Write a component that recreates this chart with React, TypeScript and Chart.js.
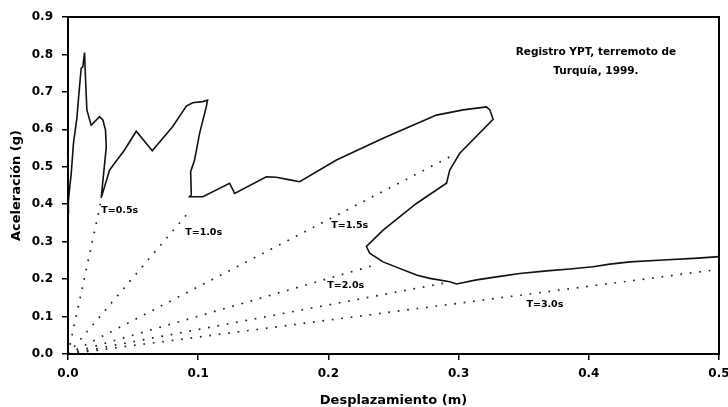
import React, { useEffect, useRef } from 'react';
import { Chart, registerables } from 'chart.js';

Chart.register(...registerables);

// Capacity curve: displacement (m) vs. acceleration (g)
const curveX = [
  0.0, 0.0003, 0.0025, 0.0042, 0.0068, 0.0083, 0.0101, 0.0114, 0.0127, 0.0135,
  0.0145, 0.0178, 0.0242, 0.0268, 0.0288, 0.0294, 0.0255, 0.0319, 0.0434, 0.0524,
  0.0647, 0.0803, 0.0909, 0.0957, 0.1034, 0.1072, 0.1062, 0.1011, 0.0972, 0.0942,
  0.0947, 0.0934, 0.1036, 0.1241, 0.128, 0.1523, 0.16, 0.1703, 0.1779, 0.2062,
  0.242, 0.283, 0.3035, 0.3214, 0.324, 0.3265, 0.3009, 0.2932, 0.2907, 0.2676,
  0.242, 0.2292, 0.2317, 0.242, 0.2676, 0.2779, 0.2932, 0.2984, 0.3138, 0.3291,
  0.347, 0.3676, 0.3855, 0.4032, 0.4162, 0.4316, 0.4572, 0.4839, 0.5,
];
const curveY = [
  0.376, 0.41, 0.483, 0.563, 0.629, 0.692, 0.763, 0.767, 0.805, 0.732,
  0.652, 0.611, 0.634, 0.625, 0.598, 0.553, 0.417, 0.491, 0.545, 0.595,
  0.543, 0.607, 0.662, 0.671, 0.674, 0.678, 0.66, 0.59, 0.518, 0.487,
  0.425, 0.42, 0.42, 0.456, 0.429, 0.473, 0.472, 0.465, 0.46, 0.518,
  0.576, 0.638, 0.652, 0.66, 0.652, 0.627, 0.536, 0.491, 0.456, 0.402,
  0.331, 0.287, 0.269, 0.246, 0.211, 0.202, 0.193, 0.187, 0.198, 0.206,
  0.215, 0.222, 0.227, 0.233, 0.24, 0.246, 0.251, 0.256, 0.26,
];

// Constant-period rays from the origin (T = 0.5, 1.0, 1.5, 2.0, 2.5, 3.0 s)
const rayEndX = [0.0255, 0.093, 0.298, 0.238, 0.29, 0.5];
const rayEndY = [0.41, 0.38, 0.535, 0.24, 0.19, 0.226];

// Period labels
const periodLabels = ['T=0.5s', 'T=1.0s', 'T=1.5s', 'T=2.0s', 'T=3.0s'];
const labelX = [0.0397, 0.1042, 0.2164, 0.2133, 0.3663];
const labelY = [0.383, 0.324, 0.344, 0.1816, 0.131];

// Record note
const noteLines = ['Registro YPT, terremoto de', 'Turquía, 1999.'];
const noteX = 0.4055;
const noteY = [0.8045, 0.7538];

// Axis ticks and titles
const xTicks = [0, 0.1, 0.2, 0.3, 0.4, 0.5];
const yTicks = [0, 0.1, 0.2, 0.3, 0.4, 0.5, 0.6, 0.7, 0.8, 0.9];
const xTitle = 'Desplazamiento (m)';
const yTitle = 'Aceleración (g)';

const FONT = '"DejaVu Sans", "Liberation Sans", sans-serif';

const annotations = {
  id: 'annotations',
  afterDatasetsDraw(chart: any) {
    const { ctx, chartArea, scales } = chart;
    const x = scales.x;
    const y = scales.y;
    ctx.save();
    ctx.fillStyle = '#000';
    ctx.textAlign = 'center';
    ctx.textBaseline = 'middle';
    ctx.font = `bold 9.5px ${FONT}`;
    periodLabels.forEach((t, i) => {
      ctx.fillText(t, x.getPixelForValue(labelX[i]), y.getPixelForValue(labelY[i]));
    });
    ctx.font = `bold 10.5px ${FONT}`;
    noteLines.forEach((t, i) => {
      ctx.fillText(t, x.getPixelForValue(noteX), y.getPixelForValue(noteY[i]));
    });
    ctx.strokeStyle = '#000';
    ctx.lineWidth = 2;
    ctx.strokeRect(
      chartArea.left,
      chartArea.top,
      chartArea.right - chartArea.left,
      chartArea.bottom - chartArea.top
    );
    ctx.restore();
  },
};

export default function App() {
  const canvasRef = useRef<HTMLCanvasElement | null>(null);

  useEffect(() => {
    const canvas = canvasRef.current;
    if (!canvas) return;

    const curve = {
      data: curveX.map((v, i) => ({ x: v, y: curveY[i] })),
      showLine: true,
      borderColor: '#111',
      borderWidth: 1.6,
      pointRadius: 0,
      tension: 0,
      fill: false,
    };
    const rays = rayEndX.map((ex, i) => ({
      data: [
        { x: 0, y: 0 },
        { x: ex, y: rayEndY[i] },
      ],
      showLine: true,
      borderColor: '#222',
      borderWidth: 1.7,
      borderDash: [1.7, 7.8],
      pointRadius: 0,
      fill: false,
    }));

    const chart = new Chart(canvas, {
      type: 'scatter',
      data: { datasets: [curve, ...rays] as any },
      options: {
        responsive: false,
        animation: false,
        devicePixelRatio: 1,
        layout: { padding: { top: 17, right: 9, left: 0, bottom: 0 } },
        plugins: { legend: { display: false }, tooltip: { enabled: false } },
        scales: {
          x: {
            type: 'linear',
            min: 0,
            max: 0.5,
            afterBuildTicks: (scale: any) => {
              scale.ticks = xTicks.map((v) => ({ value: v }));
            },
            afterFit: (scale: any) => {
              scale.height = 53;
              scale.paddingLeft = 0;
              scale.paddingRight = 0;
            },
            ticks: {
              color: '#000',
              padding: 7,
              font: { family: FONT, size: 12, weight: 'bold' },
              callback: (v: any) => Number(v).toFixed(1),
            },
            grid: {
              display: true,
              drawOnChartArea: false,
              drawTicks: true,
              tickLength: 6,
              color: '#000',
              lineWidth: 1.5,
            },
            border: { display: true, color: '#000', width: 2 },
            title: {
              display: true,
              text: xTitle,
              color: '#000',
              font: { family: FONT, size: 13, weight: 'bold' },
              padding: { top: 0, bottom: -1 },
            },
          },
          y: {
            type: 'linear',
            min: 0,
            max: 0.9,
            afterBuildTicks: (scale: any) => {
              scale.ticks = yTicks.map((v) => ({ value: v }));
            },
            afterFit: (scale: any) => {
              scale.width = 68;
              scale.paddingTop = 0;
              scale.paddingBottom = 0;
            },
            ticks: {
              color: '#000',
              padding: 9,
              font: { family: FONT, size: 12, weight: 'bold' },
              callback: (v: any) => Number(v).toFixed(1),
            },
            grid: {
              display: true,
              drawOnChartArea: false,
              drawTicks: true,
              tickLength: 6,
              color: '#000',
              lineWidth: 1.5,
            },
            border: { display: true, color: '#000', width: 2 },
            title: {
              display: true,
              text: yTitle,
              color: '#000',
              font: { family: FONT, size: 13, weight: 'bold' },
              padding: { top: 9, bottom: 0 },
            },
          },
        },
      } as any,
      plugins: [annotations],
    });

    return () => chart.destroy();
  }, []);

  return (
    <div style={{ position: 'absolute', left: 0, top: 0, width: 728, height: 407, background: '#fff' }}>
      <canvas ref={canvasRef} width={728} height={407} style={{ display: 'block' }} />
    </div>
  );
}
